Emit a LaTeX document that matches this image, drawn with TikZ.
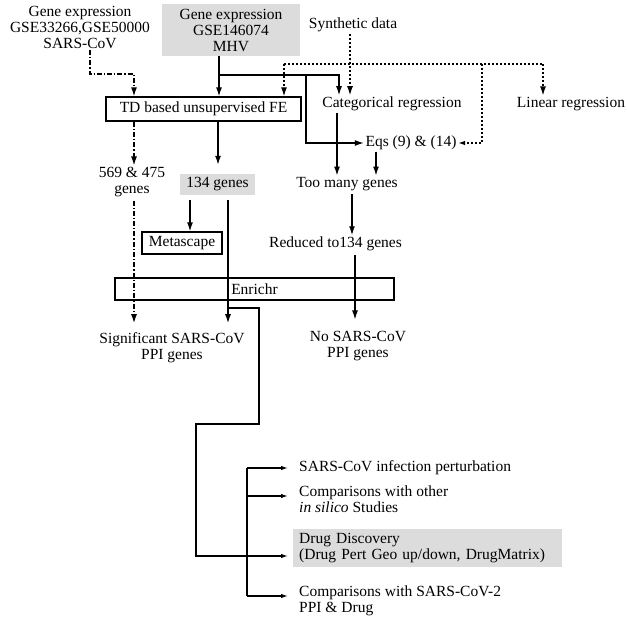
\documentclass[tikz,border=0pt]{standalone}
\usepackage{fontspec}
\setmainfont{Liberation Serif}
\usetikzlibrary{arrows.meta}
\definecolor{gfill}{RGB}{220,220,220}
\begin{document}
\begin{tikzpicture}[x=1pt,y=-1pt,
  every node/.style={font=\fontsize{15.5}{16}\selectfont},
  txt/.style={inner sep=1.5pt,align=center},
  lbox/.style={draw,line width=1.3pt,inner sep=0pt},
  gbox/.style={fill=gfill,inner sep=0pt},
  ln/.style={line width=1.3pt},
  arr/.style={ln,-{Latex[length=9pt,width=6pt]}},
  sarr/.style={ln,-{Latex[length=7pt,width=4.5pt]}},
  dd/.style={dash pattern=on 5pt off 2pt on 1.3pt off 2pt},
  dt/.style={dash pattern=on 2pt off 2pt},
]
\useasboundingbox (0,0) rectangle (627,626);
% nodes
\node[txt] (GE1) at (80,27) {Gene expression\\GSE33266,GSE50000\\SARS-CoV};
\node[gbox,minimum width=138pt,minimum height=52pt,align=center] (GE2) at (231,30) {Gene expression\\GSE146074\\MHV};
\node[txt] (Syn) at (353,25) {Synthetic data};
\node[lbox,minimum width=195pt,minimum height=24pt] (TD) at (203.5,109) {TD based unsupervised FE};
\node[txt] (Cat) at (392,104) {Categorical regression};
\node[txt] (Lin) at (571,104) {Linear regression};
\node[txt] (Eqs) at (411,143) {Eqs (9) \& (14)};
\node[txt] (Too) at (347,184) {Too many genes};
\node[txt] (Red) at (335.5,244) {Reduced to134 genes};
\node[txt] (No) at (358,346) {No SARS-CoV\\PPI genes};
\node[txt] (G569) at (132,182) {569 \& 475\\genes};
\node[gbox,minimum width=75pt,minimum height=21pt] (G134) at (217.5,184.5) {134 genes};
\node[lbox,minimum width=80pt,minimum height=22pt] (Meta) at (182,243) {Metascape};
\node[lbox,minimum width=279pt,minimum height=22pt] (Enr) at (254.5,289) {Enrichr};
\node[txt] (Sig) at (172,348) {Significant SARS-CoV\\PPI genes};
\node[txt,anchor=west,inner xsep=6pt] (O1) at (293,468) {SARS-CoV infection perturbation};
\node[txt,anchor=west,inner xsep=6pt,align=left] (O2) at (293,499) {Comparisons with other\\\textit{in silico} Studies};
\node[gbox,anchor=west,inner xsep=6pt,align=left,text width=257pt,minimum height=38pt] (O3) at (293,548) {Drug Discovery\\(Drug Pert Geo up/down, DrugMatrix)};
\node[txt,anchor=west,inner xsep=6pt,align=left] (O4) at (293,601) {Comparisons with SARS-CoV-2\\PPI \& Drug};
% top connectors
\draw[dd,arr] (GE1.south -| 90,0) -- (90,74) -- (134,74) -- (TD.north -| 134,0);
\draw[arr] (GE2.south -| 219,0) -- (TD.north -| 219,0);
\draw[arr] (219,75) -- (339,75) -- (Cat.north -| 339,0);
\draw[arr] (306,75) |- (Eqs.west);
\draw[dt,ln] (284,64) -- (543,64);
\draw[dt,arr] (284,64) -- (TD.north -| 284,0);
\draw[dt,arr] (543,64) -- (Lin.north -| 543,0);
\draw[dt,sarr] (482,64) |- (Eqs.east);
\draw[dt,arr] (Syn.south -| 350,0) -- (Cat.north -| 350,0);
% middle
\draw[dd,arr] (TD.south -| 134,0) -- (G569.north -| 134,0);
\draw[arr,shorten >=9pt] (TD.south -| 218,0) -- (G134.north -| 218,0);
\draw[arr] (Cat.south -| 337,0) -- (Too.north -| 337,0);
\draw[arr] (Eqs.south -| 376,0) -- (Too.north -| 376,0);
\draw[arr,shorten <=2pt] (Too.south -| 352,0) -- (Red.north -| 352,0);
\draw[arr,shorten <=2pt,shorten >=10pt] (Red.south -| 355,0) -- (No.north -| 355,0);
\draw[dd,arr,shorten <=2pt,shorten >=8pt] (G569.south -| 134,0) -- (Sig.north -| 134,0);
\draw[arr,shorten <=5pt] (G134.south -| 190,0) -- (Meta.north -| 190,0);
\draw[arr,shorten <=5pt,shorten >=8pt] (G134.south -| 228,0) -- (Sig.north -| 228,0);
% bottom
\coordinate (d) at (196,556);
\draw[sarr,shorten >=5pt] (228,308) -| (259,424) -| (d) -- (d -| O3.west);
\coordinate (v1) at (247,468);
\coordinate (v2) at (247,496);
\coordinate (v4) at (247,596);
\draw[ln] (v1) -- (v4);
\draw[sarr,shorten >=5pt] (v1) -- (v1 -| O1.west);
\draw[sarr,shorten >=5pt] (v2) -- (v2 -| O2.west);
\draw[sarr,shorten >=5pt] (v4) -- (v4 -| O4.west);
\end{tikzpicture}
\end{document}
